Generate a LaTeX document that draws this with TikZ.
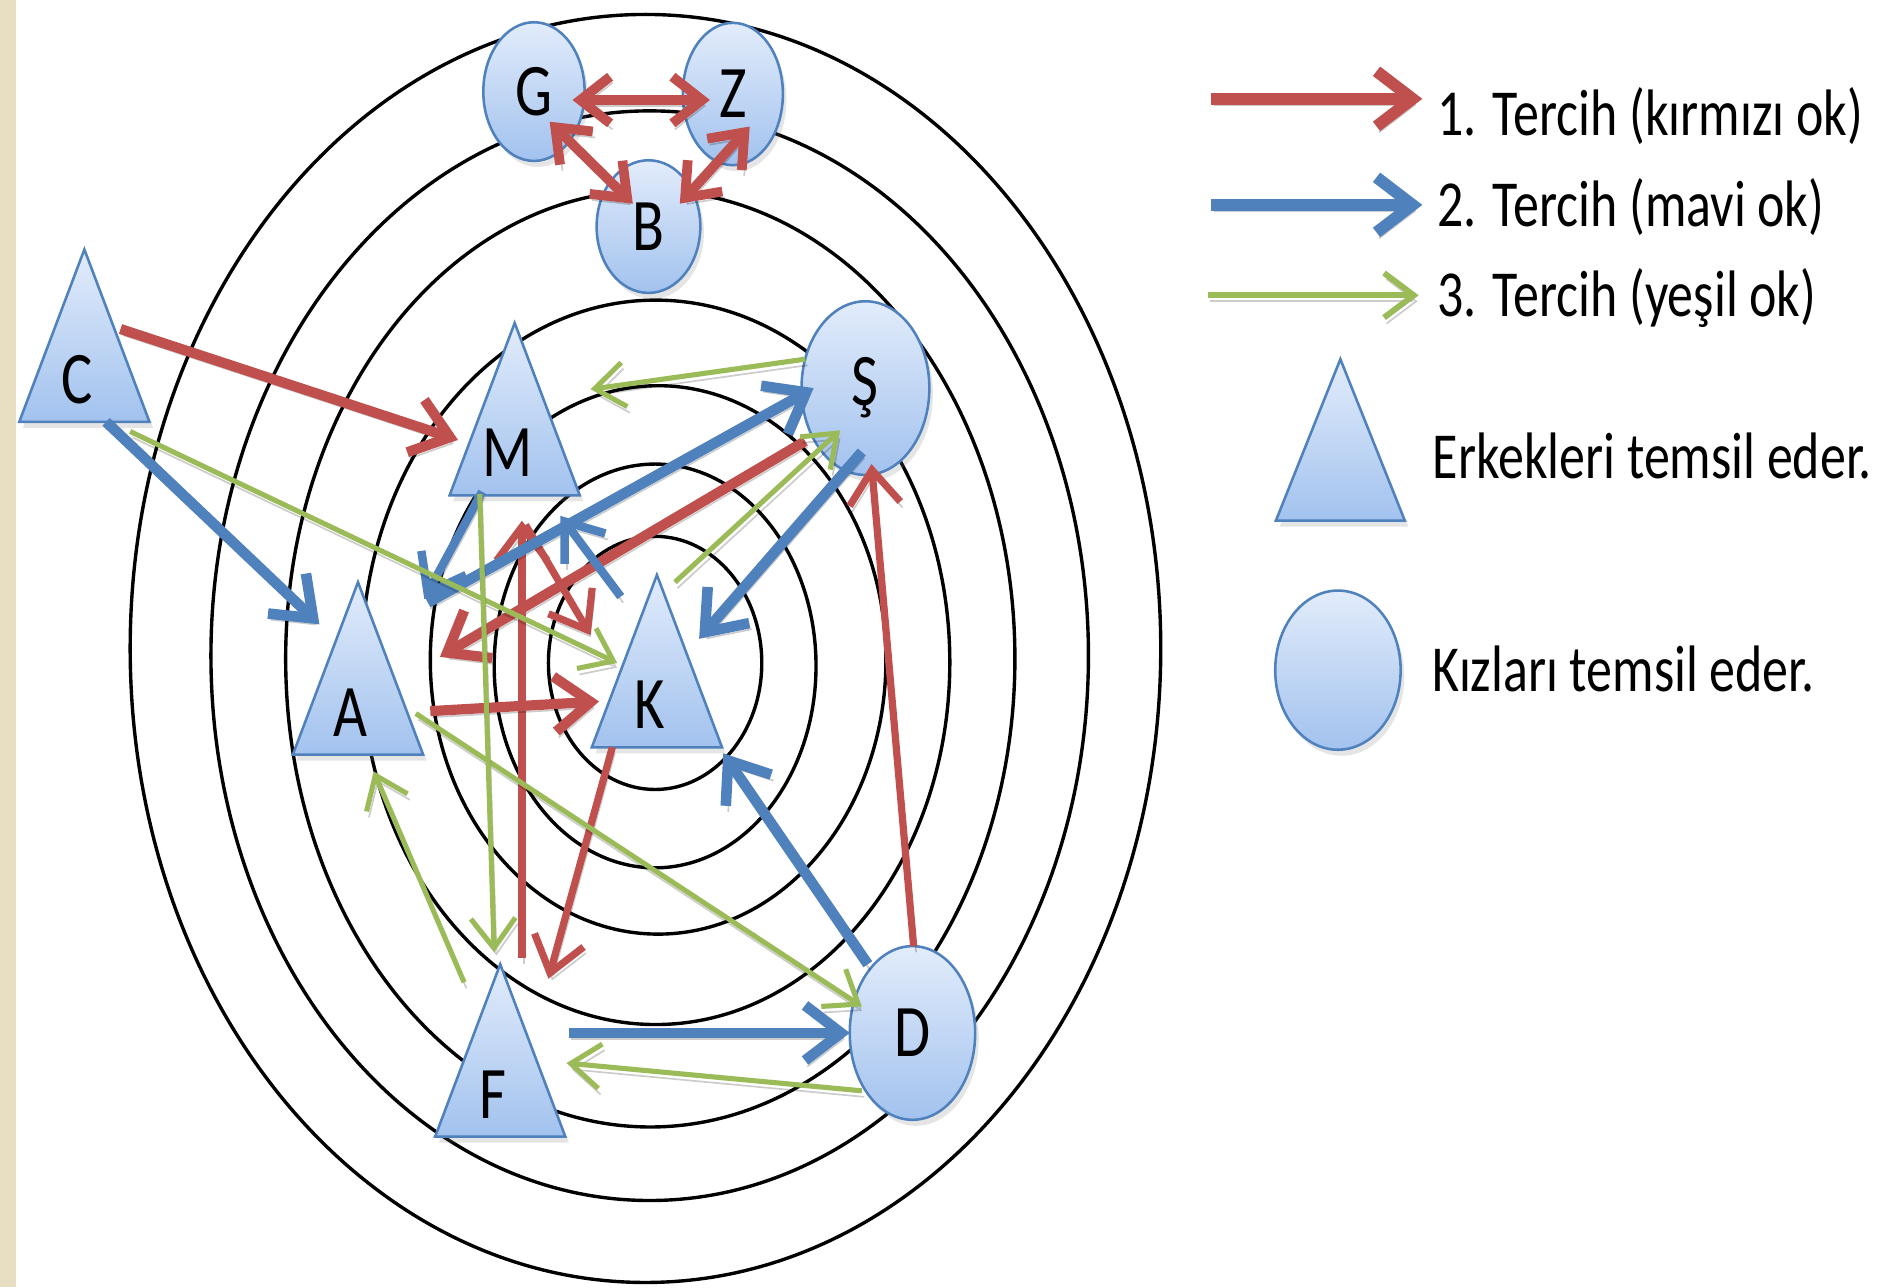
\documentclass[tikz,border=0pt]{standalone}
\usepackage{fontspec}
\setmainfont{Carlito}[FakeStretch=0.79]
\usetikzlibrary{arrows.meta,calc,shapes.geometric,shadows}
\definecolor{ored}{RGB}{192,80,77}
\definecolor{oblue}{RGB}{79,129,189}
\definecolor{ogreen}{RGB}{155,187,89}
\definecolor{shtop}{RGB}{226,236,251}
\definecolor{shbot}{RGB}{162,194,238}
\definecolor{linen}{RGB}{232,222,194}
\tikzset{
  ring/.style={draw=black, line width=0.8pt},
  shapebox/.style={draw=oblue, line width=0.6pt, top color=shtop, bottom color=shbot,
    drop shadow={shadow xshift=0.03cm, shadow yshift=-0.05cm, opacity=0.2}},
  girl/.style={shapebox, ellipse, inner sep=0pt, font=\fontsize{17.5}{20}\selectfont},
  lettr/.style={inner sep=0pt, font=\fontsize{17.5}{20}\selectfont},
  legtext/.style={inner sep=0pt, anchor=west, font=\fontsize{15.5}{18}\selectfont},
  arrshadow/.style={preaction={draw=black, draw opacity=0.2, transform canvas={xshift=0.02cm, yshift=-0.05cm}}},
  redthick/.style={arrshadow, draw=ored, line width=2.4pt, >={Straight Barb[length=8.5pt,width=13pt]}, ->},
  redmed/.style={arrshadow, draw=ored, line width=1.7pt, >={Straight Barb[length=8pt,width=12pt]}, ->},
  redboth/.style={arrshadow, draw=ored, line width=2.3pt, >={Straight Barb[length=7pt,width=11pt]}, <->},
  bluethick/.style={arrshadow, draw=oblue, line width=2.5pt, >={Straight Barb[length=8.5pt,width=13pt]}, ->},
  bluemed/.style={arrshadow, draw=oblue, line width=2pt, >={Straight Barb[length=8pt,width=12pt]}, ->},
  greenthin/.style={arrshadow, draw=ogreen, line width=1.2pt, >={Straight Barb[length=7pt,width=10.5pt]}, ->},
}
\newcommand\boytri[4]{%
  \path[shapebox] (#2,#3) -- ++(54,143) -- ++(-108,0) -- cycle;
  \node[inner sep=0pt, minimum width=1.08cm, minimum height=1.43cm] (#1) at (#2,#3+71.5) {};
  \node[lettr] (#1-t) at (#2-6,#3+108) {#4};
}
\begin{document}
\begin{tikzpicture}[x=0.01cm, y=-0.01cm]
\useasboundingbox (0,0) rectangle (1568,1068);
\fill[white] (0,0) rectangle (1568,1068);
\fill[linen] (0,0) rectangle (13,1068);

% concentric rings
\draw[ring] (535.5,538) ellipse [x radius=427.5, y radius=526];
\draw[ring] (539,544) ellipse [x radius=364, y radius=452];
\draw[ring] (539.5,546.5) ellipse [x radius=302.5, y radius=388.5];
\draw[ring] (544,549.5) ellipse [x radius=244, y radius=300.5];
\draw[ring] (546,547.5) ellipse [x radius=189, y radius=227.5];
\draw[ring] (543.5,552.5) ellipse [x radius=133.5, y radius=167.5];
\draw[ring] (543.5,550) ellipse [x radius=88.5, y radius=105];

% girls
\node[girl, minimum width=0.84cm, minimum height=1.15cm] (G) at (443,76) {G};
\node[girl, minimum width=0.83cm, minimum height=1.18cm] (Z) at (608,78) {Z};
\node[girl, minimum width=0.86cm, minimum height=1.10cm] (B) at (538,188) {B};
\node[girl, minimum width=1.06cm, minimum height=1.44cm] (S) at (718,322) {Ş};
\node[girl, minimum width=1.04cm, minimum height=1.44cm] (D) at (757,857) {D};

% boys
\boytri{C}{70}{207}{C}
\boytri{M}{427}{268}{M}
\boytri{A}{297}{483}{A}
\boytri{K}{545}{477}{K}
\boytri{F}{415}{800}{F}

% G, Z, B mutual choices
\draw[redboth] ($(G)+(32,7)$) -- ($(Z)+(-19,5)$);
\draw[redboth] ($(G)+(13,25)$) -- ($(B)+(-13,-19)$);
\draw[redboth] ($(Z)+(14,27)$) -- ($(B)+(26,-19)$);

% first choices (red)
\draw[redthick] ($(C)+(30,-5.5)$) -- ($(M)+(-47,25.5)$);
\draw[redthick] ($(S)+(-50,44)$) -- ($(A)+(68,-9.5)$);
\draw[redmed] ($(D)+(1,-72)$) -- ($(S)+(5,63)$);
\draw[redmed] ($(F)+(18,-76.5)$) -- ($(M)+(6,92.5)$);
\draw[redthick] ($(A)+(60,35.5)$) -- ($(K)+(-48,33.5)$);
\draw[redmed] ($(K)+(-37,71.5)$) -- ($(F)+(40,-59.5)$);
\draw[redmed] ($(M)+(9,96)$) -- ($(K)+(-55,-21.5)$);

% second choices (blue)
\draw[bluethick] ($(C)+(18,71.5)$) -- ($(A)+(-32,-36.5)$);
\draw[bluemed] ($(M)+(-27,68.5)$) -- ($(A)+(55,-57.5)$);
\draw[bluethick] ($(A)+(58,-54.5)$) -- ($(S)+(-43,0)$);
\draw[bluemed] ($(K)+(-30,-53.5)$) -- ($(M)+(38,88.5)$);
\draw[bluethick] ($(S)+(-3,53)$) -- ($(K)+(35,-18.5)$);
\draw[bluethick] ($(D)+(-37,-57)$) -- ($(K)+(55,76.5)$);
\draw[bluethick] ($(F)+(57,-14.5)$) -- ($(D)+(-52,0)$);

% third choices (green)
\draw[greenthin] ($(C)+(38,79.5)$) -- ($(K)+(-33,1.5)$);
\draw[greenthin] ($(S)+(-50,-24)$) -- ($(M)+(63,-16.5)$);
\draw[greenthin] ($(D)+(-42,48)$) -- ($(F)+(55,10.5)$);
\draw[greenthin] ($(F)+(-30,-56.5)$) -- ($(A)+(13,85.5)$);
\draw[greenthin] ($(A)+(48,37.5)$) -- ($(D)+(-42,-22)$);
\draw[greenthin] ($(K)+(15,-65.5)$) -- ($(S)+(-21,35)$);
\draw[greenthin] ($(M)+(-29,70.5)$) -- ($(F)+(-5,-81.5)$);

% legend
\node[legtext] (L1) at (1192,96) {1. Tercih (kırmızı ok)};
\node[legtext] (L2) at (1192,172) {2. Tercih (mavi ok)};
\node[legtext] (L3) at (1192,247) {3. Tercih (yeşil ok)};
\coordinate (L1s) at (1005,82);
\coordinate (L2s) at (1005,170);
\coordinate (L3s) at (1002,245);
\draw[redthick, line width=2.8pt] (L1s) -- ($(L1.west)+(-12,-14)$);
\draw[bluethick, line width=2.8pt] (L2s) -- ($(L2.west)+(-12,-2)$);
\draw[greenthin, line width=1.4pt] (L3s) -- ($(L3.west)+(-15,-2)$);

\path[shapebox] (1112,298) -- (1165.5,432) -- (1058.5,432) -- cycle;
\node[inner sep=0pt, minimum width=1.07cm, minimum height=1.34cm] (LT) at (1112,365) {};
\node[legtext] (LTt) at (1188,378) {Erkekleri temsil eder.};
\node[girl, minimum width=1.04cm, minimum height=1.32cm] (LE) at (1110,556) {};
\node[legtext] (LEt) at (1188,555) {Kızları temsil eder.};
\end{tikzpicture}
\end{document}
